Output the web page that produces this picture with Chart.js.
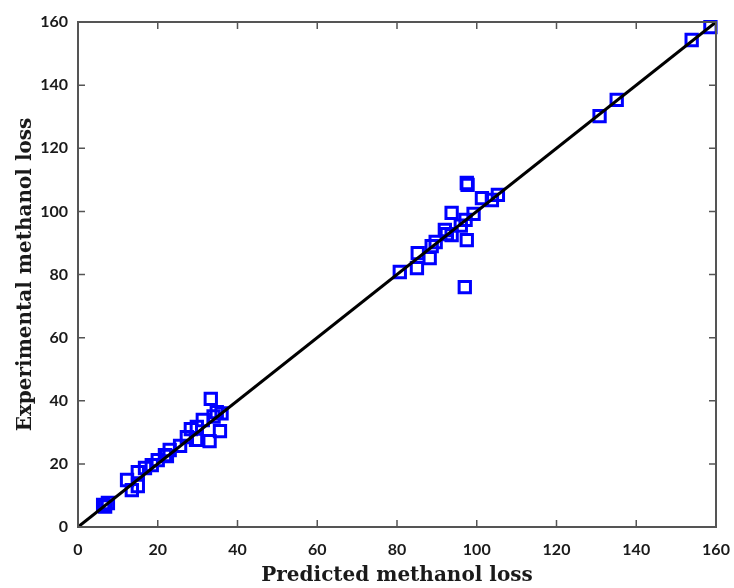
<!DOCTYPE html>
<html>
<head>
<meta charset="utf-8">
<script src="https://cdn.jsdelivr.net/npm/chart.js@4.4.0/dist/chart.umd.min.js"></script>
<style>
  html, body { margin: 0; padding: 0; background: #fff; }
  #wrap { width: 734px; height: 588px; }
</style>
</head>
<body>
<div id="wrap"><canvas id="myChart" width="734" height="588"></canvas></div>
<script>
// predicted vs experimental methanol loss
const predicted = [
  6.3, 7.5, 6.8, 12.3, 13.5, 15, 15, 16.8, 18.5, 20, 21.8, 22.3, 23, 25.6, 27.3,
  28.3, 29.6, 29.8, 31.3, 33, 33.3, 34, 34.8, 35.6, 36,
  80.7, 85, 85.2, 88.2, 88.7, 89.7, 92, 92.5, 93.7, 93.7, 96, 97, 97.2, 97.5,
  97.5, 97.7, 99.2, 101.3, 103.8, 105.3,
  130.8, 135.1, 153.9, 158.6
];
const experimental = [
  7, 7.6, 6.5, 14.9, 11.7, 17.4, 13, 18.7, 19.6, 21.2, 22.8, 22.5, 24.4, 25.7, 28.5,
  31, 27.6, 31.7, 33.9, 27.2, 40.6, 35, 36.4, 30.4, 36,
  80.8, 82, 86.8, 85.2, 89, 90.3, 94.1, 92.8, 99.5, 92.5, 95.5, 76, 97.3, 90.9,
  109, 108.4, 99.2, 104.2, 103.6, 105.2,
  130.2, 135.3, 154.3, 158.4
];
const fitLine = [0, 160];
const axisTicks = [0, 20, 40, 60, 80, 100, 120, 140, 160];

const points = predicted.map((p, i) => ({ x: p, y: experimental[i] }));

// box frame with inward ticks
const framePlugin = {
  id: "frame",
  afterDatasetsDraw(chart) {
    const { ctx, chartArea: a, scales } = chart;
    ctx.save();
    ctx.strokeStyle = "#555";
    ctx.lineWidth = 2;
    ctx.strokeRect(a.left, a.top, a.right - a.left, a.bottom - a.top);
    ctx.lineWidth = 1.5;
    ctx.beginPath();
    axisTicks.forEach((t) => {
      const px = scales.x.getPixelForValue(t);
      const py = scales.y.getPixelForValue(t);
      ctx.moveTo(px, a.bottom); ctx.lineTo(px, a.bottom - 7);
      ctx.moveTo(px, a.top); ctx.lineTo(px, a.top + 7);
      ctx.moveTo(a.left, py); ctx.lineTo(a.left + 7, py);
      ctx.moveTo(a.right, py); ctx.lineTo(a.right - 7, py);
    });
    ctx.stroke();
    ctx.restore();
  },
};

const tickFont = { family: "Lato", size: 16, weight: "bold" };
const titleFont = { family: "DejaVu Serif", size: 20, weight: "bold" };

const config = {
  type: "scatter",
  data: {
    datasets: [
      {
        label: "data",
        data: points,
        pointStyle: "rect",
        pointRadius: 8,
        pointHoverRadius: 8,
        borderColor: "#0000ff",
        backgroundColor: "rgba(0,0,0,0)",
        borderWidth: 3,
        clip: false,
        order: 1,
      },
      {
        type: "line",
        label: "fit",
        data: fitLine.map((v) => ({ x: v, y: v })),
        borderColor: "#000",
        borderWidth: 3,
        pointRadius: 0,
        order: 0,
      },
    ],
  },
  options: {
    responsive: false,
    animation: false,
    layout: { padding: { top: 22, right: 18, left: 0, bottom: 0 } },
    plugins: { legend: { display: false }, tooltip: { enabled: false } },
    scales: {
      x: {
        type: "linear",
        min: 0,
        max: 160,
        afterBuildTicks: (s) => { s.ticks = axisTicks.map((v) => ({ value: v })); },
        afterFit: (s) => { s.height = 61; s.paddingRight = 0; s.paddingLeft = 0; },
        grid: { display: false },
        border: { display: false },
        ticks: { font: tickFont, color: "#1a1a1a", padding: 5 },
        title: {
          display: true,
          text: "Predicted methanol loss",
          font: titleFont,
          color: "#1a1a1a",
          padding: { top: 4, bottom: 0 },
        },
      },
      y: {
        type: "linear",
        min: 0,
        max: 160,
        afterBuildTicks: (s) => { s.ticks = axisTicks.map((v) => ({ value: v })); },
        afterFit: (s) => { s.width = 78; s.paddingTop = 0; s.paddingBottom = 0; },
        grid: { display: false },
        border: { display: false },
        ticks: { font: tickFont, color: "#1a1a1a", padding: 2 },
        title: {
          display: true,
          text: "Experimental methanol loss",
          font: titleFont,
          color: "#1a1a1a",
          padding: { top: 14, bottom: 0 },
        },
      },
    },
  },
  plugins: [framePlugin],
};

var myChart = new Chart(document.getElementById("myChart"), config);
</script>
</body>
</html>
